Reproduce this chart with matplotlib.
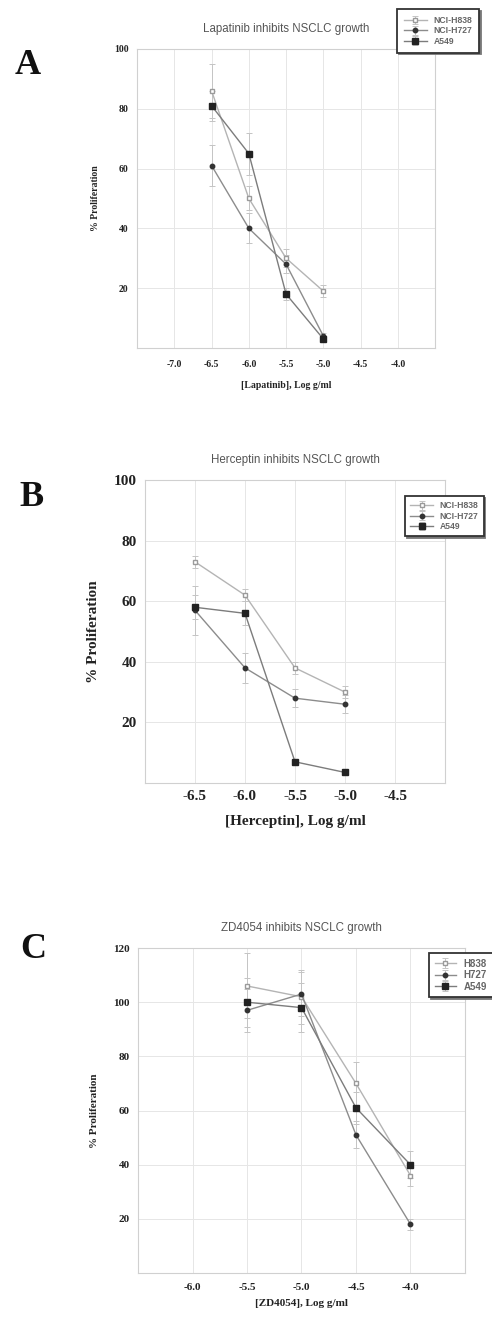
import matplotlib
matplotlib.use("Agg")
import matplotlib.pyplot as plt

# concentrations (log g/ml)
lap_x = [-6.5, -6.0, -5.5, -5.0]
her_x = [-6.5, -6.0, -5.5, -5.0]
zd_x = [-5.5, -5.0, -4.5, -4.0]

# panel A - lapatinib
lap_h838 = [86, 50, 30, 19]
lap_h838_err = [9, 4, 3, 2]
lap_h727 = [61, 40, 28, 4]
lap_h727_err = [7, 5, 3, 1]
lap_a549 = [81, 65, 18, 3]
lap_a549_err = [5, 7, 2, 1]

# panel B - herceptin
her_h838 = [73, 62, 38, 30]
her_h838_err = [2, 2, 2, 2]
her_h727 = [57, 38, 28, 26]
her_h727_err = [8, 5, 3, 3]
her_a549 = [58, 56, 7, 3.5]
her_a549_err = [4, 4, 1, 1]

# panel C - ZD4054
zd_h838 = [106, 102, 70, 36]
zd_h838_err = [12, 10, 8, 4]
zd_h727 = [97, 103, 51, 18]
zd_h727_err = [8, 8, 5, 2]
zd_a549 = [100, 98, 61, 40]
zd_a549_err = [9, 9, 6, 5]

names_long = ["NCI-H838", "NCI-H727", "A549"]
names_short = ["H838", "H727", "A549"]

SERIF = "Liberation Serif"
SANS = "Liberation Sans"

fig = plt.figure(figsize=(4.92, 13.18), dpi=100)


def panel(rect, x, series, errs, names, xlim, ylim, xticks, yticks,
          title, xlabel, fs, tpad, xpad, leg_anchor, leg_fs, leg_pad, hlen):
    ax = fig.add_axes(rect)
    styles = [
        dict(color="#b4b4b4", marker="s", ms=3.5, mfc="white", mec="#9a9a9a", lw=1.0),
        dict(color="#8c8c8c", marker="o", ms=3.2, mfc="#333333", mec="#333333", lw=1.0),
        dict(color="#7c7c7c", marker="s", ms=4.5, mfc="#222222", mec="#222222", lw=1.0),
    ]
    for y, e, n, st in zip(series, errs, names, styles):
        ax.errorbar(x, y, yerr=e, ecolor="#c4c4c4", elinewidth=0.7, capsize=2,
                    capthick=0.7, label=n, **st)
    ax.set_xlim(*xlim)
    ax.set_ylim(*ylim)
    ax.set_xticks(xticks)
    ax.set_yticks(yticks)
    ax.set_xticklabels(["%.1f" % t for t in xticks])
    ax.set_yticklabels(["%d" % t for t in yticks])
    ax.grid(True, color="#e6e6e6", lw=0.7)
    ax.tick_params(length=0, labelsize=fs)
    ax.tick_params(axis="x", pad=tpad)
    ax.tick_params(axis="y", pad=6)
    for lab in ax.get_xticklabels() + ax.get_yticklabels():
        lab.set_family(SERIF)
        lab.set_fontweight("bold")
        lab.set_color("#222222")
    for sp in ax.spines.values():
        sp.set_color("#d0d0d0")
        sp.set_linewidth(0.8)
    ax.set_title(title, family=SANS, fontsize=8.3, color="#555555", pad=12)
    ax.set_xlabel(xlabel, family=SERIF, fontweight="bold", fontsize=fs,
                  color="#222222", labelpad=xpad)
    ax.set_ylabel("% Proliferation", family=SERIF, fontweight="bold",
                  fontsize=fs, color="#222222", labelpad=10)
    leg = ax.legend(loc="upper left", bbox_to_anchor=leg_anchor,
                    bbox_transform=fig.transFigure, fancybox=False,
                    edgecolor="#333333", handlelength=hlen,
                    borderpad=leg_pad, labelspacing=0.15, framealpha=1,
                    prop=dict(family=SANS, size=leg_fs, weight="bold"),
                    shadow={"ox": 1.2, "oy": -1.2, "color": "#777777", "alpha": 1})
    leg.get_frame().set_linewidth(1.3)
    for t in leg.get_texts():
        t.set_color("#666666")
    return ax


panel([0.2785, 0.7360, 0.606, 0.2269], lap_x,
      [lap_h838, lap_h727, lap_a549], [lap_h838_err, lap_h727_err, lap_a549_err],
      names_long, (-7.5, -3.5), (0, 100),
      [-7.0, -6.5, -6.0, -5.5, -5.0, -4.5, -4.0], [20, 40, 60, 80, 100],
      "Lapatinib inhibits NSCLC growth", "[Lapatinib], Log g/ml", 7, 9, 8,
      (393 / 492, 1 - 5 / 1318), 6.2, 0.8, 2.6)

panel([0.2947, 0.4059, 0.6098, 0.2299], her_x,
      [her_h838, her_h727, her_a549], [her_h838_err, her_h727_err, her_a549_err],
      names_long, (-7.0, -4.0), (0, 100),
      [-6.5, -6.0, -5.5, -5.0, -4.5], [20, 40, 60, 80, 100],
      "Herceptin inhibits NSCLC growth", "[Herceptin], Log g/ml", 11, 5, 9,
      (401 / 492, 1 - 492 / 1318), 6.2, 0.6, 2.6)

panel([0.2805, 0.0341, 0.6646, 0.2466], zd_x,
      [zd_h838, zd_h727, zd_a549], [zd_h838_err, zd_h727_err, zd_a549_err],
      names_short, (-6.5, -3.5), (0, 120),
      [-6.0, -5.5, -5.0, -4.5, -4.0], [20, 40, 60, 80, 100, 120],
      "ZD4054 inhibits NSCLC growth", "[ZD4054], Log g/ml", 8, 7, 5,
      (424 / 492, 1 - 948 / 1318), 7.0, 0.6, 2.2)

for letter, x, y in [("A", 28, 65), ("B", 32, 497), ("C", 33, 950)]:
    fig.text(x / 492, 1 - y / 1318, letter, family=SERIF, fontweight="bold",
             fontsize=26, ha="center", va="center", color="#111111")

fig.savefig("out.png", dpi=100, facecolor="white")
